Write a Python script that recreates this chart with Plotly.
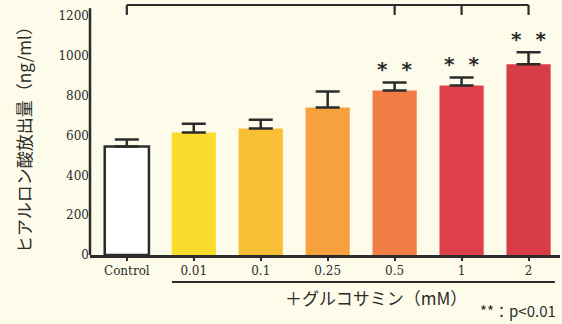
import plotly.graph_objects as go

# Hyaluronic acid release vs. glucosamine concentration
categories = ["Control", "0.01", "0.1", "0.25", "0.5", "1", "2"]
release = [545, 615, 635, 741, 827, 852, 958]
sem = [35, 45, 45, 80, 40, 40, 61]
significant = [False, False, False, False, True, True, True]
bar_colors = ["#FFFFFF", "#F9DC2C", "#F8BF35", "#F7A03E", "#F27D45", "#E0404A", "#D83C46"]

y_ticks = [0, 200, 400, 600, 800, 1000, 1200]

BG = "#FDFCEA"
INK = "#2B2B2B"
SERIF = "DejaVu Serif"
CJK = "Noto Sans CJK JP"

x_idx = list(range(len(categories)))

fig = go.Figure()
fig.add_trace(go.Bar(
    x=x_idx,
    y=release,
    width=0.66,
    marker=dict(
        color=bar_colors,
        line=dict(color=[INK] + [c for c in bar_colors[1:]],
                  width=[2.5] + [0] * (len(categories) - 1)),
    ),
    error_y=dict(type="data", array=sem, arrayminus=[0] * len(sem),
                 symmetric=False, color=INK, thickness=2.5, width=12),
    showlegend=False,
))

shapes = []
# left axis line
shapes.append(dict(type="line", xref="paper", yref="y", x0=0, x1=0, y0=0, y1=1240,
                   line=dict(color=INK, width=2.5)))
# comparison bracket from Control to the significant groups
sig_idx = [i for i, s in enumerate(significant) if s]
shapes.append(dict(type="line", xref="x", yref="y", x0=0, x1=sig_idx[-1], y0=1256, y1=1256,
                   line=dict(color=INK, width=2.2)))
for i in [0] + sig_idx:
    shapes.append(dict(type="line", xref="x", yref="y", x0=i, x1=i, y0=1256, y1=1206,
                       line=dict(color=INK, width=2.2)))
# underline grouping the glucosamine doses
shapes.append(dict(type="line", xref="paper", yref="paper", x0=0.1745, x1=0.989,
                   y0=-0.107, y1=-0.107, line=dict(color=INK, width=2)))

annotations = []
for i, s in enumerate(significant):
    if s:
        annotations.append(dict(x=i, y=release[i] + sem[i], xref="x", yref="y",
                                text="*  *", showarrow=False, yshift=13,
                                xanchor="center", yanchor="middle",
                                font=dict(family="DejaVu Sans", size=20, color=INK,
                                          weight="bold")))
annotations.append(dict(xref="paper", yref="paper", x=-0.1426, y=0.476,
                        xanchor="center", yanchor="middle",
                        text="ヒアルロン酸放出量（ng/ml）", textangle=-90, showarrow=False,
                        font=dict(family=CJK, size=17, color=INK)))
annotations.append(dict(xref="paper", yref="paper", x=0.6085, y=-0.1667,
                        xanchor="center", yanchor="middle",
                        text="＋グルコサミン（mM）", showarrow=False,
                        font=dict(family=CJK, size=17, color=INK)))
annotations.append(dict(xref="paper", yref="paper", x=0.9957, y=-0.27,
                        xanchor="right", yanchor="bottom",
                        text="**：p<0.01", showarrow=False,
                        font=dict(family=CJK, size=15, color=INK)))

fig.update_layout(
    width=562, height=324,
    margin=dict(l=90, r=2, t=3, b=69),
    paper_bgcolor=BG, plot_bgcolor=BG,
    bargap=0.34,
    shapes=shapes,
    annotations=annotations,
    xaxis=dict(
        range=[-0.55, 6.47],
        tickmode="array", tickvals=x_idx, ticktext=categories,
        showline=True, linecolor=INK, linewidth=2.5,
        ticks="outside", ticklen=3, tickwidth=2, tickcolor=INK,
        showgrid=False, zeroline=False,
        tickfont=dict(family=SERIF, size=12, color=INK),
    ),
    yaxis=dict(
        range=[0, 1266],
        tickmode="array", tickvals=y_ticks,
        showline=False, showgrid=False, zeroline=False, ticks="",
        tickfont=dict(family=SERIF, size=12, color=INK),
    ),
)

fig.write_html("out.html")
